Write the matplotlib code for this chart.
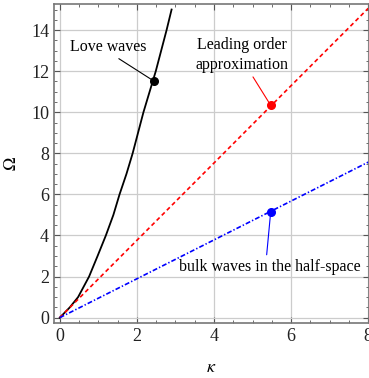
import matplotlib
matplotlib.use("Agg")
import matplotlib.pyplot as plt
import numpy as np

plt.rcParams['font.family'] = ['Liberation Serif', 'DejaVu Serif']
plt.rcParams['mathtext.fontset'] = 'stix'
plt.rcParams['lines.scale_dashes'] = False

# Love waves dispersion curve
kappa_love = [0, 0.26, 0.475, 0.76, 0.98, 1.195, 1.39, 1.55, 1.73, 1.89,
              2.03, 2.17, 2.33, 2.49, 2.63, 2.77, 2.90]
omega_love = [0, 0.5, 1.0, 2.0, 3.0, 4.0, 5.0, 6.0, 7.0, 8.0,
              9.0, 10.0, 11.0, 12.0, 13.0, 14.0, 15.0]

# leading order approximation (straight line)
kappa_lead = [0, 8.0]
omega_lead = [0, 15.06]

# bulk waves in the half-space
kappa_bulk = [0, 8.0]
omega_bulk = [0, 7.57]

# marker points
love_pt = (2.44, 11.52)
lead_pt = (5.47, 10.34)
bulk_pt = (5.47, 5.14)

fig = plt.figure(figsize=(3.69, 3.78), dpi=100)
ax = fig.add_axes([0.1463, 0.1455, 0.8537, 0.8439])

ax.grid(True, color='#cccccc', linewidth=0.9)
ax.set_axisbelow(True)

ax.plot(kappa_love, omega_love, color='black', linewidth=1.3)
ax.plot(kappa_lead, omega_lead, color='red', linewidth=1.2, dashes=(3, 2.2))
ax.plot(kappa_bulk, omega_bulk, color='blue', linewidth=1.2, dashes=(3.5, 1.5, 1, 1.5))

ax.plot(*love_pt, 'o', color='black', markersize=5.5)
ax.plot(*lead_pt, 'o', color='red', markersize=5.5)
ax.plot(*bulk_pt, 'o', color='blue', markersize=5.5)

ax.annotate('Love waves', xy=love_pt, xytext=(1.25, 13.17),
            ha='center', va='center', fontsize=11.5,
            arrowprops=dict(arrowstyle='-', color='black', linewidth=0.8,
                            shrinkA=1, shrinkB=0, relpos=(0.57, 0)))
ax.annotate('Leading order\napproximation', xy=lead_pt, xytext=(4.73, 12.78),
            ha='center', va='center', fontsize=11.5, linespacing=1.3,
            arrowprops=dict(arrowstyle='-', color='red', linewidth=0.8,
                            shrinkA=1, shrinkB=0, relpos=(0.59, 0)))
ax.annotate('bulk waves in the half-space', xy=bulk_pt, xytext=(5.45, 2.47),
            ha='center', va='center', fontsize=11.5,
            arrowprops=dict(arrowstyle='-', color='blue', linewidth=0.8,
                            shrinkA=1, shrinkB=0, relpos=(0.48, 1)))

ax.set_xlim(-0.15, 8.02)
ax.set_ylim(-0.26, 15.27)
ax.set_xticks([0, 2, 4, 6, 8])
ax.set_yticks(range(0, 15, 2))
ax.set_xticks(np.arange(0, 8.01, 0.5), minor=True)
ax.set_yticks(np.arange(0, 15.1, 0.5), minor=True)
ax.tick_params(which='both', direction='in', top=True, right=True,
               colors='#555555', labelcolor='#222222', labelsize=13)
ax.tick_params(which='major', length=4, width=0.8)
ax.tick_params(which='minor', length=2, width=0.6)
for s in ax.spines.values():
    s.set_color('#777777')
    s.set_linewidth(1.2)

ax.set_xlabel(r'$\kappa$', fontsize=13, labelpad=10)
ax.set_ylabel(r'$\Omega$', fontsize=13, labelpad=8)

fig.savefig('out.png', dpi=100)
